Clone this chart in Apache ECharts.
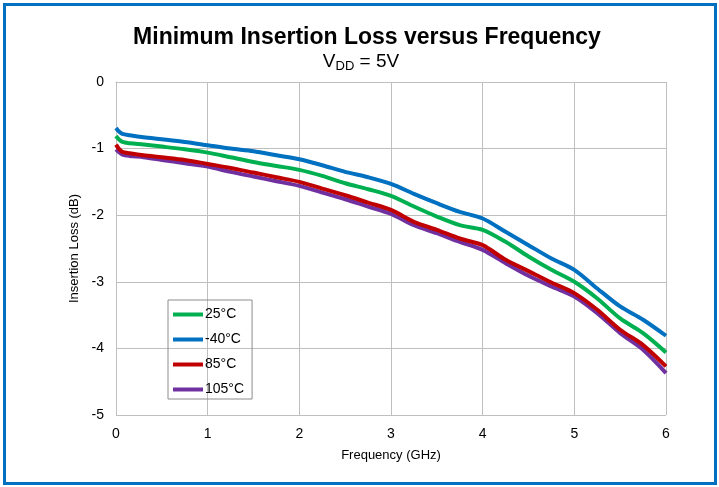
<!DOCTYPE html>
<html>
<head>
<meta charset="utf-8">
<script src="https://cdn.jsdelivr.net/npm/echarts@6/dist/echarts.min.js"></script>
<style>html,body{margin:0;padding:0;background:#fff;}#c{width:719px;height:487px;}</style>
</head>
<body>
<div id="c"></div>
<script>
var freq = [0, 0.03, 0.07, 0.15, 0.3, 0.5, 0.75, 1, 1.25, 1.5, 1.75, 2, 2.25, 2.5, 2.75, 3, 3.25, 3.5, 3.75, 4, 4.25, 4.5, 4.75, 5, 5.25, 5.5, 5.75, 6];
var s25  = [-0.81, -0.86, -0.90, -0.92, -0.94, -0.97, -1.01, -1.06, -1.13, -1.20, -1.26, -1.32, -1.41, -1.52, -1.61, -1.71, -1.87, -2.02, -2.15, -2.22, -2.40, -2.62, -2.82, -3.00, -3.25, -3.55, -3.77, -4.06];
var sM40 = [-0.69, -0.74, -0.78, -0.80, -0.83, -0.86, -0.90, -0.95, -1.00, -1.04, -1.10, -1.16, -1.25, -1.35, -1.43, -1.53, -1.68, -1.82, -1.95, -2.05, -2.25, -2.45, -2.65, -2.82, -3.10, -3.37, -3.57, -3.81];
var s85  = [-0.94, -1.00, -1.05, -1.07, -1.10, -1.13, -1.17, -1.23, -1.29, -1.36, -1.43, -1.50, -1.60, -1.70, -1.81, -1.92, -2.10, -2.22, -2.35, -2.45, -2.67, -2.84, -3.01, -3.17, -3.42, -3.72, -3.95, -4.27];
var s105 = [-1.01, -1.05, -1.09, -1.11, -1.13, -1.17, -1.22, -1.27, -1.35, -1.42, -1.49, -1.56, -1.66, -1.76, -1.87, -1.98, -2.15, -2.27, -2.40, -2.52, -2.72, -2.91, -3.07, -3.22, -3.47, -3.77, -4.02, -4.37];
var seriesNames = ['25°C', '-40°C', '85°C', '105°C'];
var seriesColors = ['#00b050', '#0070c0', '#c00000', '#7030a0'];
var xTicks = [0, 1, 2, 3, 4, 5, 6];
var yTicks = [0, -1, -2, -3, -4, -5];

function pairs(ys) { return freq.map(function (f, i) { return [f, ys[i]]; }); }
var allData = [s25, sM40, s85, s105];

var chart = echarts.init(document.getElementById('c'), null, {renderer: 'canvas'});
var font = 'Liberation Sans, Arial, sans-serif';
chart.setOption({
  animation: false,
  backgroundColor: '#ffffff',
  graphic: [{
    type: 'rect', silent: true,
    shape: {x: 4.5, y: 4.5, width: 711, height: 479},
    style: {fill: 'none', stroke: '#0070c0', lineWidth: 3}
  }],
  title: [{
    text: 'Minimum Insertion Loss versus Frequency',
    left: 362, top: 21, textAlign: 'center',
    textStyle: {fontFamily: font, fontSize: 23, fontWeight: 'bold', color: '#000'}
  }, {
    text: '{v|V}{s|DD}{v| = 5V}',
    left: 356, top: 46, textAlign: 'center',
    textStyle: {
      fontFamily: font, color: '#000', fontWeight: 'normal',
      rich: {
        v: {fontFamily: font, fontSize: 19, fontWeight: 'normal', color: '#000'},
        s: {fontFamily: font, fontSize: 13, fontWeight: 'normal', color: '#000', verticalAlign: 'bottom', padding: [9, 0, 0, 0]}
      }
    }
  }],
  legend: {
    orient: 'vertical', left: 168, top: 300,
    data: seriesNames,
    icon: 'rect', itemWidth: 30, itemHeight: 4, itemGap: 10,
    padding: [7, 8, 2, 5],
    borderColor: '#8c8c8c', borderWidth: 1,
    textStyle: {fontFamily: font, fontSize: 14, color: '#000', padding: [0, 0, 0, -3], lineHeight: 15}
  },
  grid: {left: 116, right: 53, top: 82, bottom: 72, containLabel: false},
  xAxis: {
    type: 'value', min: 0, max: 6, interval: 1,
    name: 'Frequency (GHz)', nameLocation: 'middle', nameGap: 34,
    nameTextStyle: {fontFamily: font, fontSize: 13, color: '#000'},
    axisLine: {show: true, lineStyle: {color: '#bfbfbf', width: 1}},
    axisTick: {show: false},
    axisLabel: {fontFamily: font, fontSize: 14, color: '#000', margin: 12,
      formatter: function (v) { return xTicks.indexOf(v) >= 0 ? String(v) : ''; }},
    splitLine: {show: true, lineStyle: {color: '#bfbfbf', width: 1}}
  },
  yAxis: {
    type: 'value', min: -5, max: 0, interval: 1,
    name: 'Insertion Loss (dB)', nameLocation: 'middle', nameGap: 31,
    nameTextStyle: {fontFamily: font, fontSize: 13, color: '#000'},
    axisLine: {show: true, lineStyle: {color: '#bfbfbf', width: 1}},
    axisTick: {show: false},
    axisLabel: {fontFamily: font, fontSize: 14, color: '#000', margin: 12,
      formatter: function (v) { return yTicks.indexOf(v) >= 0 ? String(v) : ''; }},
    splitLine: {show: true, lineStyle: {color: '#bfbfbf', width: 1}}
  },
  series: seriesNames.map(function (n, i) {
    return {
      name: n, type: 'line', data: pairs(allData[i]),
      showSymbol: false, symbol: 'none', smooth: 0.3,
      lineStyle: {color: seriesColors[i], width: 4},
      itemStyle: {color: seriesColors[i]},
      z: 10 - i
    };
  })
});
</script>
</body>
</html>
